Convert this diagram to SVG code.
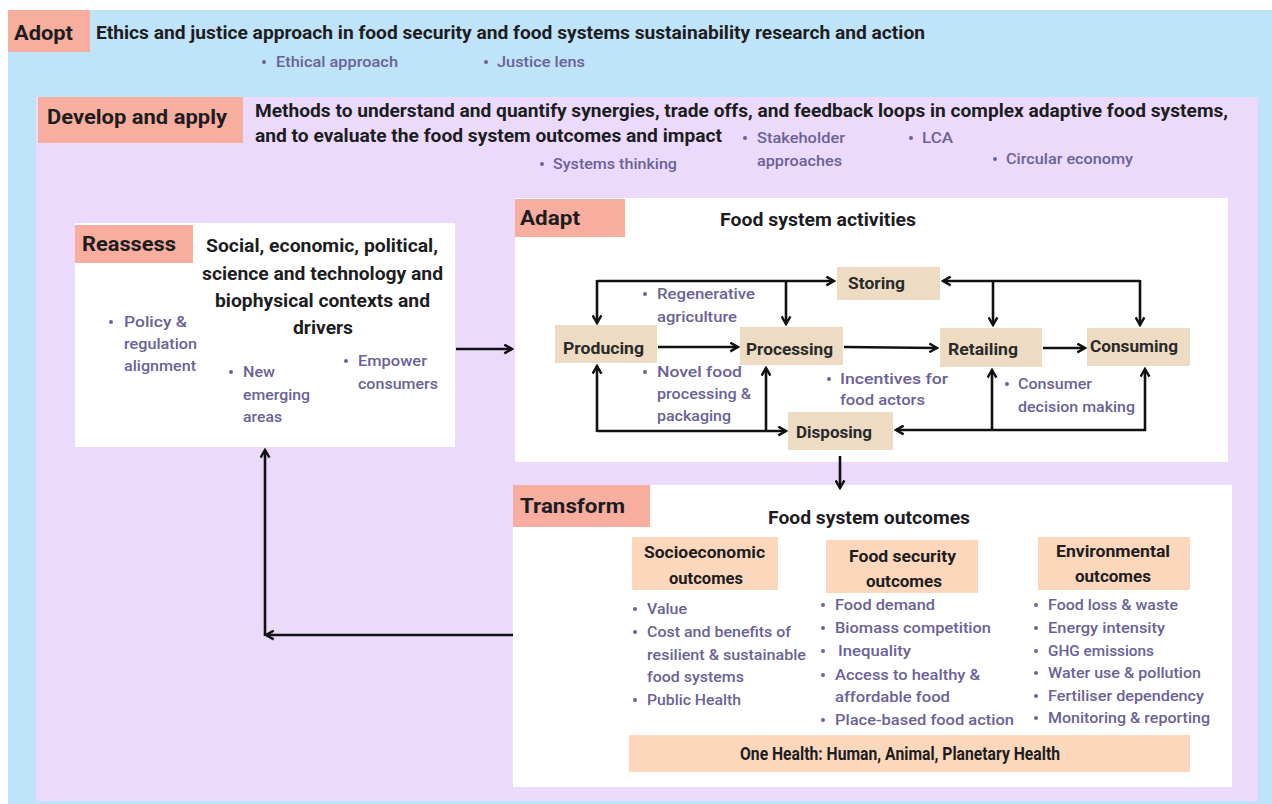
<svg xmlns="http://www.w3.org/2000/svg" width="1272" height="804" viewBox="0 0 1272 804">
<defs>
<style>
.h{font-family:Roboto,"Liberation Sans",sans-serif;font-weight:bold;fill:#1d1d1f}
.lab{font-family:Roboto,"Liberation Sans",sans-serif;font-weight:bold;font-size:21px;fill:#1d1d1f}
.b{font-family:Roboto,"Liberation Sans",sans-serif;font-size:15.5px;fill:#6a6296;font-weight:500}
.n{font-family:Roboto,"Liberation Sans",sans-serif;font-weight:bold;font-size:17px;fill:#2a2a2a}
.dot{fill:#6a6296}
.salmon{fill:#f7ae9f}
.tan{fill:#eddcc3}
.peach{fill:#fcd7bb}
.panel{fill:#ffffff}
.c{fill:none;stroke:#111;stroke-width:2.6}
</style>
<marker id="ah" viewBox="0 0 10 10" refX="8.5" refY="5" markerWidth="11" markerHeight="11" markerUnits="userSpaceOnUse" orient="auto-start-reverse">
<path d="M1.5,1 L8.5,5 L1.5,9" fill="none" stroke="#111" stroke-width="2.2"/>
</marker>
</defs>

<rect x="0" y="0" width="1272" height="804" fill="#ffffff"/>
<g id="adopt">
<rect x="8" y="10" width="1264" height="794" fill="#bfe3f8"/>
<rect class="salmon" x="8" y="10" width="82" height="42"/>
<text class="lab" x="14" y="40" font-size="20" textLength="59" lengthAdjust="spacingAndGlyphs">Adopt</text>
<text class="h" x="96" y="39" font-size="18.5" textLength="829" lengthAdjust="spacingAndGlyphs">Ethics and justice approach in food security and food systems sustainability research and action</text>
<circle class="dot" cx="264" cy="62" r="2"/><text class="b" x="276" y="67" textLength="122" lengthAdjust="spacingAndGlyphs">Ethical approach</text>
<circle class="dot" cx="486" cy="62" r="2"/><text class="b" x="497" y="67" textLength="88" lengthAdjust="spacingAndGlyphs">Justice lens</text>
</g>

<g id="develop">
<rect x="36" y="97" width="1222" height="704" fill="#ebdafb"/>
<rect class="salmon" x="38" y="97" width="205" height="46"/>
<text class="lab" x="47" y="124" font-size="20" textLength="180" lengthAdjust="spacingAndGlyphs">Develop and apply</text>
<text class="h" x="255" y="117" font-size="18.5" textLength="973" lengthAdjust="spacingAndGlyphs">Methods to understand and quantify synergies, trade offs, and feedback loops in complex adaptive food systems,</text>
<text class="h" x="255" y="142" font-size="18.5" textLength="467" lengthAdjust="spacingAndGlyphs">and to evaluate the food system outcomes and impact</text>
<circle class="dot" cx="745" cy="138" r="2"/><text class="b" x="757" y="143" textLength="88" lengthAdjust="spacingAndGlyphs">Stakeholder</text>
<text class="b" x="757" y="166" textLength="85" lengthAdjust="spacingAndGlyphs">approaches</text>
<circle class="dot" cx="911" cy="138" r="2"/><text class="b" x="922" y="143" textLength="31" lengthAdjust="spacingAndGlyphs">LCA</text>
<circle class="dot" cx="542" cy="164" r="2"/><text class="b" x="553" y="169" textLength="124" lengthAdjust="spacingAndGlyphs">Systems thinking</text>
<circle class="dot" cx="995" cy="159" r="2"/><text class="b" x="1006" y="164" textLength="127" lengthAdjust="spacingAndGlyphs">Circular economy</text>
</g>

<g id="reassess">
<rect class="panel" x="75" y="223" width="380" height="224"/>
<rect class="salmon" x="75" y="225" width="118" height="38"/>
<text class="lab" x="82" y="251" font-size="20" textLength="94" lengthAdjust="spacingAndGlyphs">Reassess</text>
<text class="h" x="206" y="252" font-size="18" textLength="232" lengthAdjust="spacingAndGlyphs">Social, economic, political,</text>
<text class="h" x="202" y="280" font-size="18" textLength="241" lengthAdjust="spacingAndGlyphs">science and technology and</text>
<text class="h" x="215" y="307" font-size="18" textLength="215" lengthAdjust="spacingAndGlyphs">biophysical contexts and</text>
<text class="h" x="293" y="334" font-size="18" textLength="60" lengthAdjust="spacingAndGlyphs">drivers</text>
<circle class="dot" cx="111" cy="322" r="2"/><text class="b" x="124" y="327" textLength="63" lengthAdjust="spacingAndGlyphs">Policy &amp;</text>
<text class="b" x="124" y="349" textLength="73" lengthAdjust="spacingAndGlyphs">regulation</text>
<text class="b" x="124" y="371" textLength="72" lengthAdjust="spacingAndGlyphs">alignment</text>
<circle class="dot" cx="231" cy="372" r="2"/><text class="b" x="243" y="377" textLength="32" lengthAdjust="spacingAndGlyphs">New</text>
<text class="b" x="243" y="400" textLength="67" lengthAdjust="spacingAndGlyphs">emerging</text>
<text class="b" x="243" y="422" textLength="39" lengthAdjust="spacingAndGlyphs">areas</text>
<circle class="dot" cx="346" cy="361" r="2"/><text class="b" x="358" y="366" textLength="69" lengthAdjust="spacingAndGlyphs">Empower</text>
<text class="b" x="358" y="389" textLength="80" lengthAdjust="spacingAndGlyphs">consumers</text>
</g>

<g id="adapt">
<rect class="panel" x="515" y="198" width="713" height="264"/>
<rect class="salmon" x="515" y="199" width="110" height="38"/>
<text class="lab" x="520" y="225" font-size="20" textLength="60" lengthAdjust="spacingAndGlyphs">Adapt</text>
<text class="h" x="720" y="226" font-size="18" textLength="196" lengthAdjust="spacingAndGlyphs">Food system activities</text>
<circle class="dot" cx="645" cy="294" r="2"/><text class="b" x="657" y="299" textLength="98" lengthAdjust="spacingAndGlyphs">Regenerative</text>
<text class="b" x="657" y="322" textLength="80" lengthAdjust="spacingAndGlyphs">agriculture</text>
<circle class="dot" cx="645" cy="372" r="2"/><text class="b" x="657" y="377" textLength="85" lengthAdjust="spacingAndGlyphs">Novel food</text>
<text class="b" x="657" y="399" textLength="94" lengthAdjust="spacingAndGlyphs">processing &amp;</text>
<text class="b" x="657" y="421" textLength="74" lengthAdjust="spacingAndGlyphs">packaging</text>
<circle class="dot" cx="829" cy="379" r="2"/><text class="b" x="840" y="384" textLength="108" lengthAdjust="spacingAndGlyphs">Incentives for</text>
<text class="b" x="840" y="405" textLength="85" lengthAdjust="spacingAndGlyphs">food actors</text>
<circle class="dot" cx="1007" cy="384" r="2"/><text class="b" x="1018" y="389" textLength="74" lengthAdjust="spacingAndGlyphs">Consumer</text>
<text class="b" x="1018" y="412" textLength="117" lengthAdjust="spacingAndGlyphs">decision making</text>
</g>

<g id="storing"><rect class="tan" x="837" y="267" width="103" height="33"/><text class="n" x="848" y="289" textLength="57" lengthAdjust="spacingAndGlyphs">Storing</text></g>
<g id="producing"><rect class="tan" x="555" y="325" width="102" height="38"/><text class="n" x="563" y="354" textLength="81" lengthAdjust="spacingAndGlyphs">Producing</text></g>
<g id="processing"><rect class="tan" x="740" y="327" width="103" height="38"/><text class="n" x="746" y="355" textLength="87" lengthAdjust="spacingAndGlyphs">Processing</text></g>
<g id="retailing"><rect class="tan" x="940" y="328" width="102" height="39"/><text class="n" x="948" y="355" textLength="70" lengthAdjust="spacingAndGlyphs">Retailing</text></g>
<g id="consuming"><rect class="tan" x="1087" y="328" width="103" height="38"/><text class="n" x="1090" y="352" textLength="88" lengthAdjust="spacingAndGlyphs">Consuming</text></g>
<g id="disposing"><rect class="tan" x="788" y="412" width="105" height="38"/><text class="n" x="796" y="438" textLength="76" lengthAdjust="spacingAndGlyphs">Disposing</text></g>

<g id="transform">
<rect class="panel" x="513" y="485" width="719" height="302"/>
<rect class="salmon" x="513" y="485" width="137" height="42"/>
<text class="lab" x="520" y="513" textLength="105" lengthAdjust="spacingAndGlyphs">Transform</text>
<text class="h" x="768" y="524" font-size="18" textLength="202" lengthAdjust="spacingAndGlyphs">Food system outcomes</text>
</g>

<g id="socioeconomic">
<rect class="peach" x="632" y="537" width="146" height="53"/>
<text class="h" x="644" y="558" font-size="17" textLength="121" lengthAdjust="spacingAndGlyphs">Socioeconomic</text>
<text class="h" x="669" y="584" font-size="17" textLength="74" lengthAdjust="spacingAndGlyphs">outcomes</text>
<circle class="dot" cx="635" cy="609" r="2"/><text class="b" x="647" y="614" textLength="40" lengthAdjust="spacingAndGlyphs">Value</text>
<circle class="dot" cx="635" cy="632" r="2"/><text class="b" x="647" y="637" textLength="144" lengthAdjust="spacingAndGlyphs">Cost and benefits of</text>
<text class="b" x="647" y="660" textLength="159" lengthAdjust="spacingAndGlyphs">resilient &amp; sustainable</text>
<text class="b" x="647" y="682" textLength="97" lengthAdjust="spacingAndGlyphs">food systems</text>
<circle class="dot" cx="635" cy="700" r="2"/><text class="b" x="647" y="705" textLength="94" lengthAdjust="spacingAndGlyphs">Public Health</text>
</g>

<g id="foodsecurity">
<rect class="peach" x="826" y="540" width="152" height="53"/>
<text class="h" x="849" y="562" font-size="17" textLength="107" lengthAdjust="spacingAndGlyphs">Food security</text>
<text class="h" x="866" y="587" font-size="17" textLength="76" lengthAdjust="spacingAndGlyphs">outcomes</text>
<circle class="dot" cx="823" cy="605" r="2"/><text class="b" x="835" y="610" textLength="100" lengthAdjust="spacingAndGlyphs">Food demand</text>
<circle class="dot" cx="823" cy="628" r="2"/><text class="b" x="835" y="633" textLength="156" lengthAdjust="spacingAndGlyphs">Biomass competition</text>
<circle class="dot" cx="823" cy="651" r="2"/><text class="b" x="838" y="656" textLength="73" lengthAdjust="spacingAndGlyphs">Inequality</text>
<circle class="dot" cx="823" cy="675" r="2"/><text class="b" x="835" y="680" textLength="145" lengthAdjust="spacingAndGlyphs">Access to healthy &amp;</text>
<text class="b" x="835" y="702" textLength="115" lengthAdjust="spacingAndGlyphs">affordable food</text>
<circle class="dot" cx="823" cy="720" r="2"/><text class="b" x="835" y="725" textLength="179" lengthAdjust="spacingAndGlyphs">Place-based food action</text>
</g>

<g id="environmental">
<rect class="peach" x="1038" y="537" width="152" height="53"/>
<text class="h" x="1056" y="557" font-size="17" textLength="114" lengthAdjust="spacingAndGlyphs">Environmental</text>
<text class="h" x="1075" y="582" font-size="17" textLength="76" lengthAdjust="spacingAndGlyphs">outcomes</text>
<circle class="dot" cx="1036" cy="605" r="2"/><text class="b" x="1048" y="610" textLength="130" lengthAdjust="spacingAndGlyphs">Food loss &amp; waste</text>
<circle class="dot" cx="1036" cy="628" r="2"/><text class="b" x="1048" y="633" textLength="117" lengthAdjust="spacingAndGlyphs">Energy intensity</text>
<circle class="dot" cx="1036" cy="651" r="2"/><text class="b" x="1048" y="656" textLength="106" lengthAdjust="spacingAndGlyphs">GHG emissions</text>
<circle class="dot" cx="1036" cy="673" r="2"/><text class="b" x="1048" y="678" textLength="153" lengthAdjust="spacingAndGlyphs">Water use &amp; pollution</text>
<circle class="dot" cx="1036" cy="696" r="2"/><text class="b" x="1048" y="701" textLength="156" lengthAdjust="spacingAndGlyphs">Fertiliser dependency</text>
<circle class="dot" cx="1036" cy="718" r="2"/><text class="b" x="1048" y="723" textLength="162" lengthAdjust="spacingAndGlyphs">Monitoring &amp; reporting</text>
</g>

<g id="onehealth">
<rect class="peach" x="629" y="735" width="561" height="37"/>
<text class="h" x="740" y="760" font-size="17.5" textLength="320" lengthAdjust="spacingAndGlyphs">One Health: Human, Animal, Planetary Health</text>
</g>

<g id="connectors">
<path class="c" d="M456,349 H512" marker-end="url(#ah)"/>
<path class="c" d="M597,281 H834" marker-end="url(#ah)"/>
<path class="c" d="M597,280 V323" marker-end="url(#ah)"/>
<path class="c" d="M786,281 V324" marker-end="url(#ah)"/>
<path class="c" d="M1140,281 H943" marker-end="url(#ah)"/>
<path class="c" d="M993,281 V325" marker-end="url(#ah)"/>
<path class="c" d="M1140,280 V325" marker-end="url(#ah)"/>
<path class="c" d="M658,347 H738" marker-end="url(#ah)"/>
<path class="c" d="M844,347 L937,348" marker-end="url(#ah)"/>
<path class="c" d="M1043,348 H1085" marker-end="url(#ah)"/>
<path class="c" d="M597,432 V366" marker-end="url(#ah)"/>
<path class="c" d="M597,431 H786" marker-end="url(#ah)"/>
<path class="c" d="M766,431 V368" marker-end="url(#ah)"/>
<path class="c" d="M1145,431 V369" marker-end="url(#ah)"/>
<path class="c" d="M1146,430 H896" marker-end="url(#ah)"/>
<path class="c" d="M992,430 V370" marker-end="url(#ah)"/>
<path class="c" d="M840,456 V488" marker-end="url(#ah)"/>
<path class="c" d="M513,635 H266" marker-end="url(#ah)"/>
<path class="c" d="M265,636 V450" marker-end="url(#ah)"/>
</g>
</svg>
